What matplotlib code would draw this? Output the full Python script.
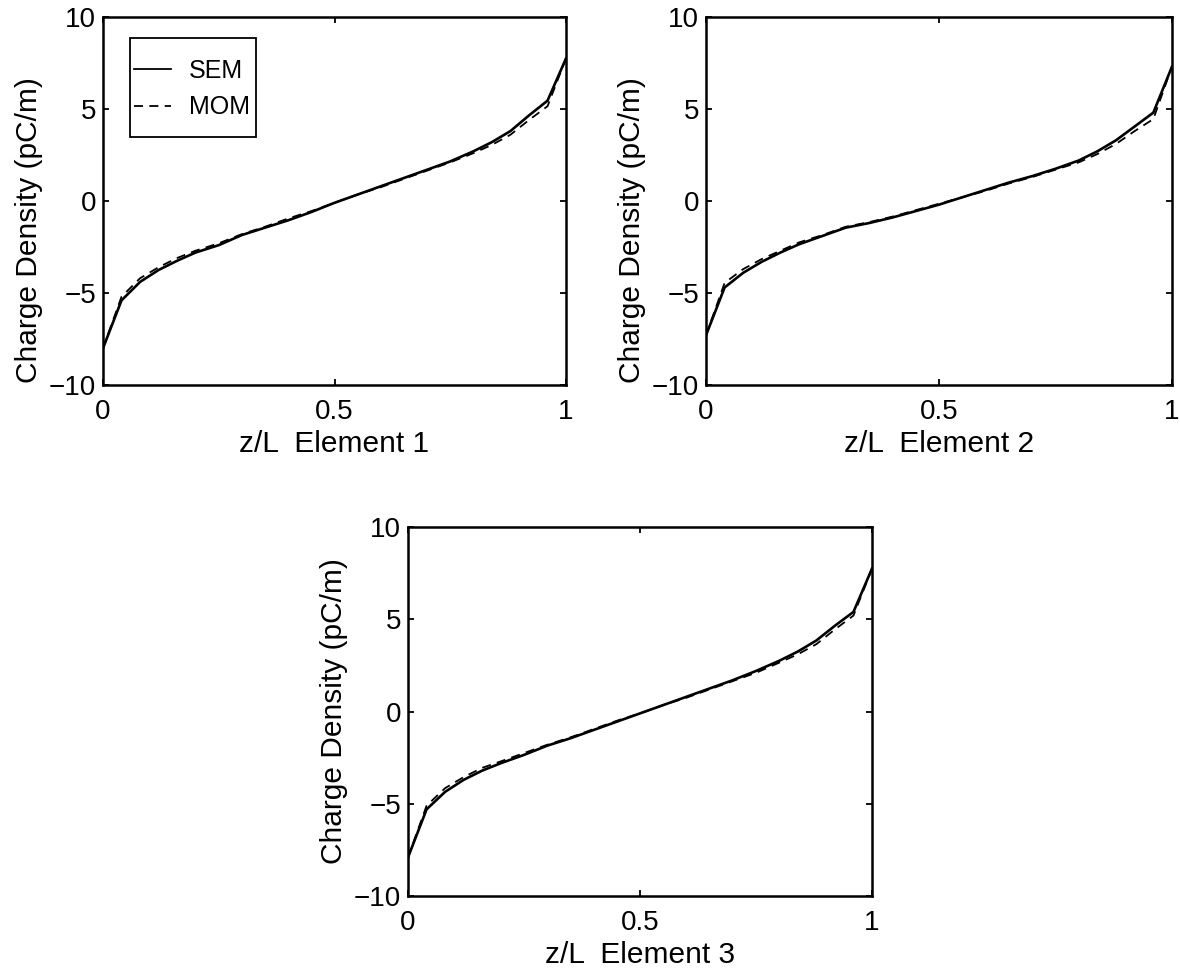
import matplotlib
matplotlib.use("Agg")
import matplotlib.pyplot as plt
from matplotlib.patches import Rectangle
from matplotlib.lines import Line2D

plt.rcParams['font.family'] = ['Liberation Sans', 'DejaVu Sans']

# sample positions along each element (normalised length)
z = [0, 0.04, 0.08, 0.12, 0.16, 0.2, 0.25, 0.3, 0.35, 0.4, 0.45, 0.5,
     0.55, 0.6, 0.65, 0.7, 0.75, 0.8, 0.84, 0.88, 0.92, 0.96, 1.0]

# charge density, pC/m
sem_1 = [-8.0, -5.4, -4.4, -3.75, -3.25, -2.8, -2.4, -1.85, -1.45, -1.05, -0.6, -0.1,
         0.35, 0.8, 1.25, 1.7, 2.15, 2.7, 3.2, 3.8, 4.65, 5.45, 7.75]
mom_1 = [-8.0, -5.2, -4.2, -3.6, -3.1, -2.7, -2.3, -1.8, -1.4, -0.95, -0.55, -0.1,
         0.35, 0.75, 1.2, 1.65, 2.1, 2.6, 3.05, 3.6, 4.4, 5.15, 7.75]

sem_2 = [-7.3, -4.7, -3.9, -3.3, -2.8, -2.35, -1.9, -1.45, -1.2, -0.9, -0.55, -0.2,
         0.2, 0.6, 1.0, 1.35, 1.75, 2.2, 2.7, 3.3, 4.05, 4.8, 7.3]
mom_2 = [-7.3, -4.45, -3.7, -3.15, -2.7, -2.25, -1.85, -1.4, -1.15, -0.85, -0.5, -0.15,
         0.2, 0.55, 0.95, 1.3, 1.7, 2.1, 2.55, 3.1, 3.8, 4.45, 7.3]

sem_3 = [-7.9, -5.3, -4.35, -3.7, -3.2, -2.8, -2.35, -1.85, -1.45, -1.0, -0.55, -0.1,
         0.35, 0.8, 1.25, 1.7, 2.2, 2.75, 3.25, 3.85, 4.65, 5.4, 7.75]
mom_3 = [-7.9, -5.1, -4.15, -3.55, -3.05, -2.7, -2.25, -1.8, -1.4, -0.95, -0.5, -0.1,
         0.35, 0.75, 1.2, 1.65, 2.1, 2.65, 3.1, 3.65, 4.45, 5.2, 7.75]

elements = ['Element 1', 'Element 2', 'Element 3']
methods = ['SEM', 'MOM']
xticks = [0, 0.5, 1]
xticklabels = ['0', '0.5', '1']
yticks = [-10, -5, 0, 5, 10]

solid = dict(color='black', lw=1.9)
dashed = dict(color='black', lw=1.3, dashes=(5, 3.5))

fig = plt.figure(figsize=(11.8, 9.69), dpi=100)
positions = [
    [0.0873, 0.6027, 0.3924, 0.3798],
    [0.5983, 0.6027, 0.3949, 0.3798],
    [0.3458, 0.0753, 0.3932, 0.3808],
]
# the top row has its y label sitting a little low
label_y = [0.42, 0.42, 0.5]
series = [(sem_1, mom_1), (sem_2, mom_2), (sem_3, mom_3)]

for i, (pos, (sem, mom)) in enumerate(zip(positions, series)):
    ax = fig.add_axes(pos)
    ax.plot(z, sem, **solid)
    ax.plot(z, mom, **dashed)
    ax.set_xlim(0, 1)
    ax.set_ylim(-10, 10)
    ax.set_xticks(xticks)
    ax.set_xticklabels(xticklabels)
    ax.set_yticks(yticks)
    ax.tick_params(direction='in', length=4, width=1.3, labelsize=20,
                   top=True, right=True)
    ax.tick_params(axis='x', pad=10)
    ax.tick_params(axis='y', pad=5)
    for s in ax.spines.values():
        s.set_linewidth(1.8)
    ax.set_xlabel('z/L  ' + elements[i], fontsize=21.5, labelpad=4)
    ax.set_ylabel('Charge Density (pC/m)', fontsize=21.5, labelpad=4)
    ax.yaxis.label.set_y(label_y[i])

    if i == 0:
        # boxed key, top left of the first panel
        ax.add_patch(Rectangle((0.058, 0.674), 0.272, 0.27, transform=ax.transAxes,
                               fill=False, ec='black', lw=1.3, zorder=5))
        for row, (name, style) in enumerate(zip(methods, [solid, dashed])):
            y = 0.859 - row * 0.1
            ax.add_line(Line2D([0.067, 0.147], [y, y], transform=ax.transAxes,
                               **dict(style, lw=1.3)))
            ax.text(0.185, y - 0.024, name, transform=ax.transAxes,
                    fontsize=18, va='baseline', ha='left')

fig.savefig('out.png', dpi=100)
